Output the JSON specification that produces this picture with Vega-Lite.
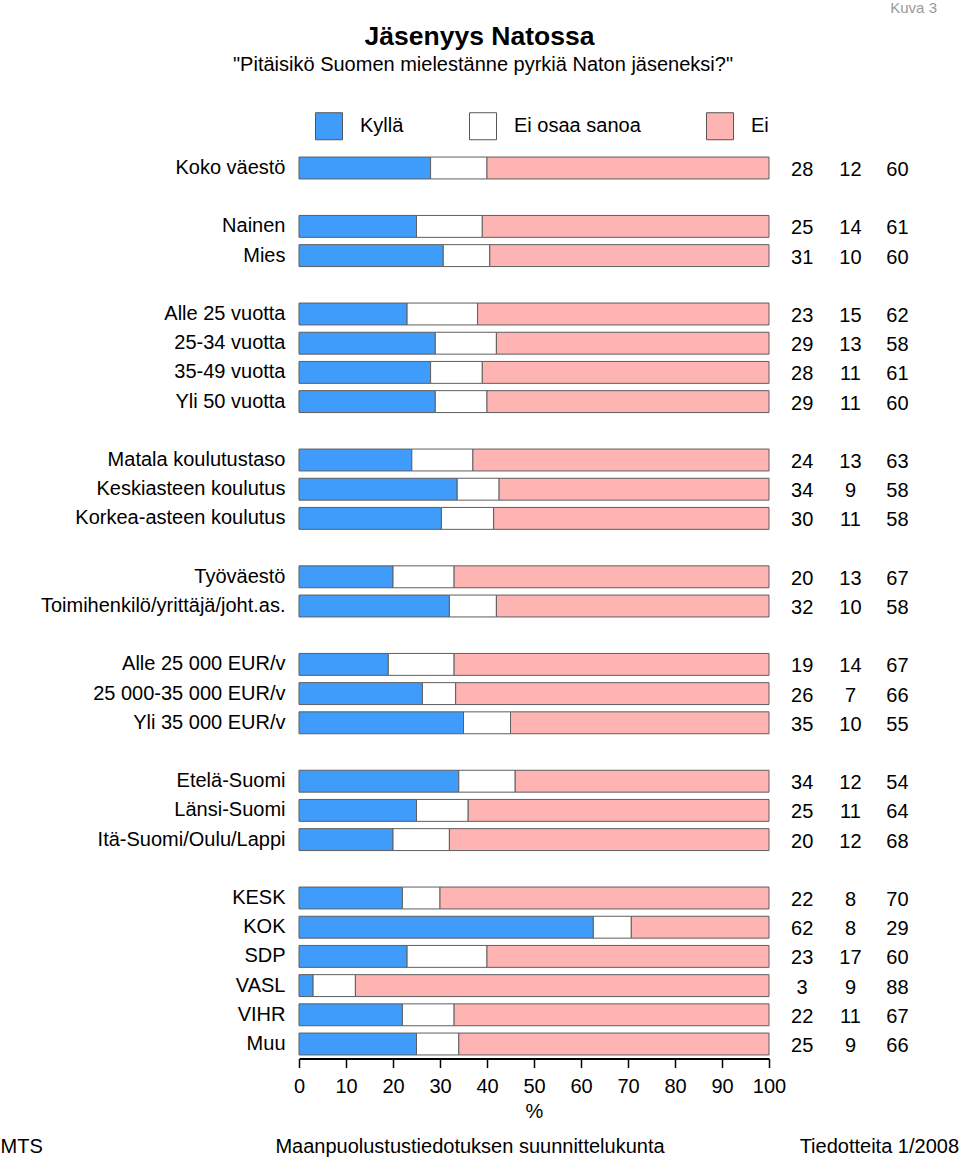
{
  "$schema": "https://vega.github.io/schema/vega-lite/v6.json",
  "width": 470,
  "height": 905.2,
  "autosize": {"type": "none"},
  "padding": {"left": 299, "top": 153.4, "right": 191, "bottom": 100.4},
  "background": "white",
  "config": {
    "font": "Liberation Sans",
    "view": {"stroke": null},
    "text": {"font": "Liberation Sans"}
  },
  "resolve": {"scale": {"y": "independent"}},
  "layer": [
    {
      "data": {
        "values": [
          {"ryhmä": "Koko väestö", "Kyllä": 28, "Ei osaa sanoa": 12, "Ei": 60},
          {"ryhmä": "Nainen", "Kyllä": 25, "Ei osaa sanoa": 14, "Ei": 61},
          {"ryhmä": "Mies", "Kyllä": 31, "Ei osaa sanoa": 10, "Ei": 60},
          {"ryhmä": "Alle 25 vuotta", "Kyllä": 23, "Ei osaa sanoa": 15, "Ei": 62},
          {"ryhmä": "25-34 vuotta", "Kyllä": 29, "Ei osaa sanoa": 13, "Ei": 58},
          {"ryhmä": "35-49 vuotta", "Kyllä": 28, "Ei osaa sanoa": 11, "Ei": 61},
          {"ryhmä": "Yli 50 vuotta", "Kyllä": 29, "Ei osaa sanoa": 11, "Ei": 60},
          {"ryhmä": "Matala koulutustaso", "Kyllä": 24, "Ei osaa sanoa": 13, "Ei": 63},
          {"ryhmä": "Keskiasteen koulutus", "Kyllä": 34, "Ei osaa sanoa": 9, "Ei": 58},
          {"ryhmä": "Korkea-asteen koulutus", "Kyllä": 30, "Ei osaa sanoa": 11, "Ei": 58},
          {"ryhmä": "Työväestö", "Kyllä": 20, "Ei osaa sanoa": 13, "Ei": 67},
          {"ryhmä": "Toimihenkilö/yrittäjä/joht.as.", "Kyllä": 32, "Ei osaa sanoa": 10, "Ei": 58},
          {"ryhmä": "Alle 25 000 EUR/v", "Kyllä": 19, "Ei osaa sanoa": 14, "Ei": 67},
          {"ryhmä": "25 000-35 000 EUR/v", "Kyllä": 26, "Ei osaa sanoa": 7, "Ei": 66},
          {"ryhmä": "Yli 35 000 EUR/v", "Kyllä": 35, "Ei osaa sanoa": 10, "Ei": 55},
          {"ryhmä": "Etelä-Suomi", "Kyllä": 34, "Ei osaa sanoa": 12, "Ei": 54},
          {"ryhmä": "Länsi-Suomi", "Kyllä": 25, "Ei osaa sanoa": 11, "Ei": 64},
          {"ryhmä": "Itä-Suomi/Oulu/Lappi", "Kyllä": 20, "Ei osaa sanoa": 12, "Ei": 68},
          {"ryhmä": "KESK", "Kyllä": 22, "Ei osaa sanoa": 8, "Ei": 70},
          {"ryhmä": "KOK", "Kyllä": 62, "Ei osaa sanoa": 8, "Ei": 29},
          {"ryhmä": "SDP", "Kyllä": 23, "Ei osaa sanoa": 17, "Ei": 60},
          {"ryhmä": "VASL", "Kyllä": 3, "Ei osaa sanoa": 9, "Ei": 88},
          {"ryhmä": "VIHR", "Kyllä": 22, "Ei osaa sanoa": 11, "Ei": 67},
          {"ryhmä": "Muu", "Kyllä": 25, "Ei osaa sanoa": 9, "Ei": 66}
        ]
      },
      "layer": [
        {
          "transform": [
            {"fold": ["Kyllä", "Ei osaa sanoa", "Ei"], "as": ["vastaus", "osuus"]}
          ],
          "mark": {"type": "bar", "stroke": "#5e5e5e", "strokeWidth": 1},
          "encoding": {
            "y": {
              "field": "ryhmä",
              "type": "nominal",
              "scale": {
                "domain": ["Koko väestö", "_1", "Nainen", "Mies", "_2", "Alle 25 vuotta", "25-34 vuotta", "35-49 vuotta", "Yli 50 vuotta", "_3", "Matala koulutustaso", "Keskiasteen koulutus", "Korkea-asteen koulutus", "_4", "Työväestö", "Toimihenkilö/yrittäjä/joht.as.", "_5", "Alle 25 000 EUR/v", "25 000-35 000 EUR/v", "Yli 35 000 EUR/v", "_6", "Etelä-Suomi", "Länsi-Suomi", "Itä-Suomi/Oulu/Lappi", "_7", "KESK", "KOK", "SDP", "VASL", "VIHR", "Muu"],
                "paddingInner": 0.25,
                "paddingOuter": 0.125
              },
              "axis": {
                "title": null,
                "domain": false,
                "ticks": false,
                "labelFontSize": 20,
                "labelColor": "black",
                "labelPadding": 14,
                "labelLimit": 400,
                "labelExpr": "indexof(datum.label, '_') == 0 ? '' : datum.label"
              }
            },
            "x": {
              "field": "osuus",
              "type": "quantitative",
              "stack": "normalize",
              "scale": {"domain": [0, 1], "nice": false},
              "axis": {
                "title": "%",
                "values": [0, 0.1, 0.2, 0.3, 0.4, 0.5, 0.6, 0.7, 0.8, 0.9, 1],
                "labelExpr": "format(datum.value * 100, '.0f')",
                "grid": false,
                "domainColor": "black",
                "domainWidth": 2,
                "tickColor": "black",
                "tickWidth": 1.5,
                "tickSize": 9,
                "labelFontSize": 20,
                "labelColor": "black",
                "labelPadding": 9,
                "labelFlush": false,
                "titleFontSize": 20,
                "titleFontWeight": "normal",
                "titleColor": "black",
                "titlePadding": 5
              }
            },
            "order": {"field": "vastaus", "type": "ordinal", "sort": "descending"},
            "color": {
              "field": "vastaus",
              "type": "nominal",
              "scale": {
                "domain": ["Kyllä", "Ei osaa sanoa", "Ei"],
                "range": ["#3f9cfa", "#ffffff", "#ffb4b4"]
              },
              "legend": {
                "title": null,
                "orient": "none",
                "legendX": 16,
                "legendY": -41.4,
                "direction": "horizontal",
                "padding": 0,
                "symbolType": "square",
                "symbolSize": 729,
                "symbolStrokeColor": "#555555",
                "symbolStrokeWidth": 1,
                "symbolOpacity": 1,
                "labelFontSize": 20,
                "labelColor": "black",
                "labelOffset": 17,
                "columnPadding": 63
              }
            }
          }
        },
        {
          "mark": {"type": "text", "align": "center", "baseline": "middle", "fontSize": 20, "color": "black", "dy": 2},
          "encoding": {
            "y": {"field": "ryhmä", "type": "nominal"},
            "x": {"datum": 1.0706, "type": "quantitative", "scale": {"domain": [0, 1]}},
            "text": {"field": "Kyllä"}
          }
        },
        {
          "mark": {"type": "text", "align": "center", "baseline": "middle", "fontSize": 20, "color": "black", "dy": 2},
          "encoding": {
            "y": {"field": "ryhmä", "type": "nominal"},
            "x": {"datum": 1.1734, "type": "quantitative", "scale": {"domain": [0, 1]}},
            "text": {"field": "Ei osaa sanoa"}
          }
        },
        {
          "mark": {"type": "text", "align": "center", "baseline": "middle", "fontSize": 20, "color": "black", "dy": 2},
          "encoding": {
            "y": {"field": "ryhmä", "type": "nominal"},
            "x": {"datum": 1.2734, "type": "quantitative", "scale": {"domain": [0, 1]}},
            "text": {"field": "Ei"}
          }
        }
      ]
    },
    {
      "data": {"values": [{"teksti": "Jäsenyys Natossa"}]},
      "mark": {"type": "text", "align": "center", "baseline": "alphabetic", "fontSize": 26.5, "fontWeight": "bold", "color": "black"},
      "encoding": {
        "x": {"datum": 0.384, "type": "quantitative", "scale": {"domain": [0, 1]}},
        "y": {"datum": 1.1202, "type": "quantitative", "scale": {"domain": [0, 1], "nice": false, "zero": false}, "axis": null},
        "text": {"field": "teksti"}
      }
    },
    {
      "data": {"values": [{"teksti": "\"Pitäisikö Suomen mielestänne pyrkiä Naton jäseneksi?\""}]},
      "mark": {"type": "text", "align": "center", "baseline": "alphabetic", "fontSize": 20, "color": "black"},
      "encoding": {
        "x": {"datum": 0.3915, "type": "quantitative", "scale": {"domain": [0, 1]}},
        "y": {"datum": 1.0906, "type": "quantitative", "scale": {"domain": [0, 1], "nice": false, "zero": false}, "axis": null},
        "text": {"field": "teksti"}
      }
    },
    {
      "data": {"values": [{"teksti": "Kuva 3"}]},
      "mark": {"type": "text", "align": "right", "baseline": "alphabetic", "fontSize": 15, "color": "#9a9a9a"},
      "encoding": {
        "x": {"datum": 1.3574, "type": "quantitative", "scale": {"domain": [0, 1]}},
        "y": {"datum": 1.1552, "type": "quantitative", "scale": {"domain": [0, 1], "nice": false, "zero": false}, "axis": null},
        "text": {"field": "teksti"}
      }
    },
    {
      "data": {"values": [{"teksti": "MTS"}]},
      "mark": {"type": "text", "align": "left", "baseline": "alphabetic", "fontSize": 20, "color": "black"},
      "encoding": {
        "x": {"datum": -0.6351, "type": "quantitative", "scale": {"domain": [0, 1]}},
        "y": {"datum": -0.1043, "type": "quantitative", "scale": {"domain": [0, 1], "nice": false, "zero": false}, "axis": null},
        "text": {"field": "teksti"}
      }
    },
    {
      "data": {"values": [{"teksti": "Maanpuolustustiedotuksen suunnittelukunta"}]},
      "mark": {"type": "text", "align": "center", "baseline": "alphabetic", "fontSize": 20, "color": "black"},
      "encoding": {
        "x": {"datum": 0.3638, "type": "quantitative", "scale": {"domain": [0, 1]}},
        "y": {"datum": -0.1043, "type": "quantitative", "scale": {"domain": [0, 1], "nice": false, "zero": false}, "axis": null},
        "text": {"field": "teksti"}
      }
    },
    {
      "data": {"values": [{"teksti": "Tiedotteita 1/2008"}]},
      "mark": {"type": "text", "align": "right", "baseline": "alphabetic", "fontSize": 20, "color": "black"},
      "encoding": {
        "x": {"datum": 1.4043, "type": "quantitative", "scale": {"domain": [0, 1]}},
        "y": {"datum": -0.1043, "type": "quantitative", "scale": {"domain": [0, 1], "nice": false, "zero": false}, "axis": null},
        "text": {"field": "teksti"}
      }
    }
  ]
}
